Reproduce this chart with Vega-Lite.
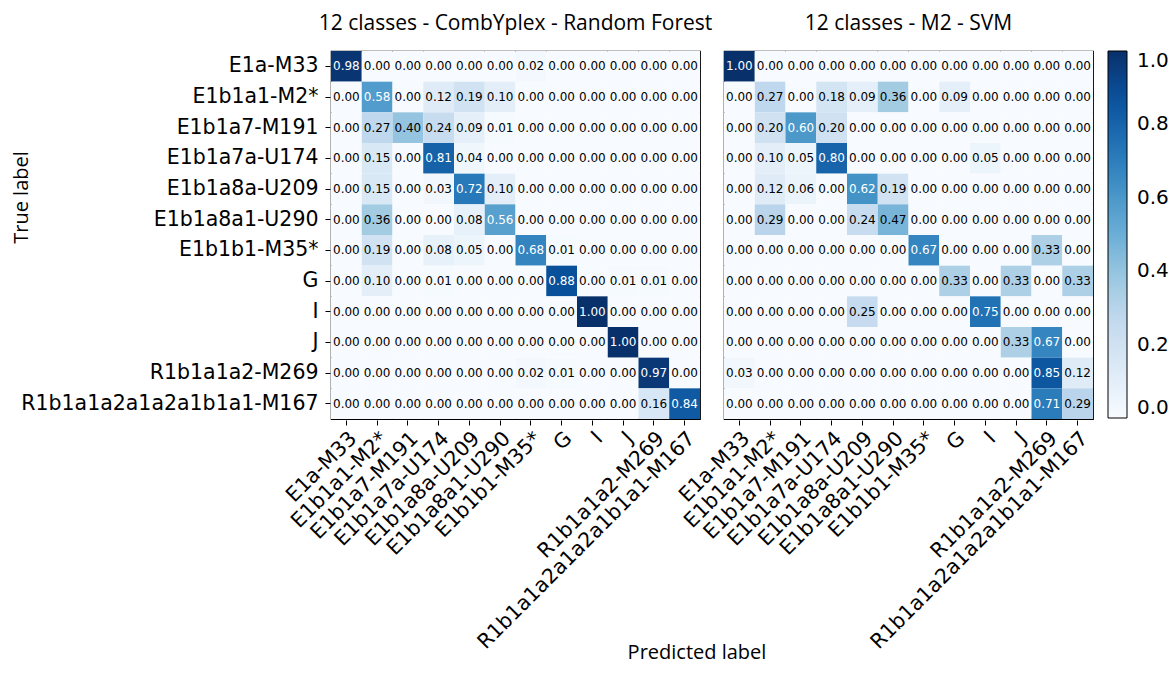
{
  "$schema": "https://vega.github.io/schema/vega-lite/v6.json",
  "background": "white",
  "padding": {"left": 11, "top": 13, "right": 2, "bottom": 6},
  "title": {"text": "Predicted label", "orient": "bottom", "anchor": "middle", "frame": "group", "font": "Open Sans", "fontSize": 20, "fontWeight": "normal", "color": "black", "offset": -10, "dx": 366},
  "datasets": {
    "cm": [
      {"p":"RF","t":"E1a-M33","c":"E1a-M33","v":0.98},{"p":"RF","t":"E1a-M33","c":"E1b1a1-M2*","v":0},{"p":"RF","t":"E1a-M33","c":"E1b1a7-M191","v":0},{"p":"RF","t":"E1a-M33","c":"E1b1a7a-U174","v":0},{"p":"RF","t":"E1a-M33","c":"E1b1a8a-U209","v":0},{"p":"RF","t":"E1a-M33","c":"E1b1a8a1-U290","v":0},{"p":"RF","t":"E1a-M33","c":"E1b1b1-M35*","v":0.02},{"p":"RF","t":"E1a-M33","c":"G","v":0},{"p":"RF","t":"E1a-M33","c":"I","v":0},{"p":"RF","t":"E1a-M33","c":"J","v":0},{"p":"RF","t":"E1a-M33","c":"R1b1a1a2-M269","v":0},{"p":"RF","t":"E1a-M33","c":"R1b1a1a2a1a2a1b1a1-M167","v":0},
      {"p":"RF","t":"E1b1a1-M2*","c":"E1a-M33","v":0},{"p":"RF","t":"E1b1a1-M2*","c":"E1b1a1-M2*","v":0.58},{"p":"RF","t":"E1b1a1-M2*","c":"E1b1a7-M191","v":0},{"p":"RF","t":"E1b1a1-M2*","c":"E1b1a7a-U174","v":0.12},{"p":"RF","t":"E1b1a1-M2*","c":"E1b1a8a-U209","v":0.19},{"p":"RF","t":"E1b1a1-M2*","c":"E1b1a8a1-U290","v":0.10},{"p":"RF","t":"E1b1a1-M2*","c":"E1b1b1-M35*","v":0},{"p":"RF","t":"E1b1a1-M2*","c":"G","v":0},{"p":"RF","t":"E1b1a1-M2*","c":"I","v":0},{"p":"RF","t":"E1b1a1-M2*","c":"J","v":0},{"p":"RF","t":"E1b1a1-M2*","c":"R1b1a1a2-M269","v":0},{"p":"RF","t":"E1b1a1-M2*","c":"R1b1a1a2a1a2a1b1a1-M167","v":0},
      {"p":"RF","t":"E1b1a7-M191","c":"E1a-M33","v":0},{"p":"RF","t":"E1b1a7-M191","c":"E1b1a1-M2*","v":0.27},{"p":"RF","t":"E1b1a7-M191","c":"E1b1a7-M191","v":0.40},{"p":"RF","t":"E1b1a7-M191","c":"E1b1a7a-U174","v":0.24},{"p":"RF","t":"E1b1a7-M191","c":"E1b1a8a-U209","v":0.09},{"p":"RF","t":"E1b1a7-M191","c":"E1b1a8a1-U290","v":0.01},{"p":"RF","t":"E1b1a7-M191","c":"E1b1b1-M35*","v":0},{"p":"RF","t":"E1b1a7-M191","c":"G","v":0},{"p":"RF","t":"E1b1a7-M191","c":"I","v":0},{"p":"RF","t":"E1b1a7-M191","c":"J","v":0},{"p":"RF","t":"E1b1a7-M191","c":"R1b1a1a2-M269","v":0},{"p":"RF","t":"E1b1a7-M191","c":"R1b1a1a2a1a2a1b1a1-M167","v":0},
      {"p":"RF","t":"E1b1a7a-U174","c":"E1a-M33","v":0},{"p":"RF","t":"E1b1a7a-U174","c":"E1b1a1-M2*","v":0.15},{"p":"RF","t":"E1b1a7a-U174","c":"E1b1a7-M191","v":0},{"p":"RF","t":"E1b1a7a-U174","c":"E1b1a7a-U174","v":0.81},{"p":"RF","t":"E1b1a7a-U174","c":"E1b1a8a-U209","v":0.04},{"p":"RF","t":"E1b1a7a-U174","c":"E1b1a8a1-U290","v":0},{"p":"RF","t":"E1b1a7a-U174","c":"E1b1b1-M35*","v":0},{"p":"RF","t":"E1b1a7a-U174","c":"G","v":0},{"p":"RF","t":"E1b1a7a-U174","c":"I","v":0},{"p":"RF","t":"E1b1a7a-U174","c":"J","v":0},{"p":"RF","t":"E1b1a7a-U174","c":"R1b1a1a2-M269","v":0},{"p":"RF","t":"E1b1a7a-U174","c":"R1b1a1a2a1a2a1b1a1-M167","v":0},
      {"p":"RF","t":"E1b1a8a-U209","c":"E1a-M33","v":0},{"p":"RF","t":"E1b1a8a-U209","c":"E1b1a1-M2*","v":0.15},{"p":"RF","t":"E1b1a8a-U209","c":"E1b1a7-M191","v":0},{"p":"RF","t":"E1b1a8a-U209","c":"E1b1a7a-U174","v":0.03},{"p":"RF","t":"E1b1a8a-U209","c":"E1b1a8a-U209","v":0.72},{"p":"RF","t":"E1b1a8a-U209","c":"E1b1a8a1-U290","v":0.10},{"p":"RF","t":"E1b1a8a-U209","c":"E1b1b1-M35*","v":0},{"p":"RF","t":"E1b1a8a-U209","c":"G","v":0},{"p":"RF","t":"E1b1a8a-U209","c":"I","v":0},{"p":"RF","t":"E1b1a8a-U209","c":"J","v":0},{"p":"RF","t":"E1b1a8a-U209","c":"R1b1a1a2-M269","v":0},{"p":"RF","t":"E1b1a8a-U209","c":"R1b1a1a2a1a2a1b1a1-M167","v":0},
      {"p":"RF","t":"E1b1a8a1-U290","c":"E1a-M33","v":0},{"p":"RF","t":"E1b1a8a1-U290","c":"E1b1a1-M2*","v":0.36},{"p":"RF","t":"E1b1a8a1-U290","c":"E1b1a7-M191","v":0},{"p":"RF","t":"E1b1a8a1-U290","c":"E1b1a7a-U174","v":0},{"p":"RF","t":"E1b1a8a1-U290","c":"E1b1a8a-U209","v":0.08},{"p":"RF","t":"E1b1a8a1-U290","c":"E1b1a8a1-U290","v":0.56},{"p":"RF","t":"E1b1a8a1-U290","c":"E1b1b1-M35*","v":0},{"p":"RF","t":"E1b1a8a1-U290","c":"G","v":0},{"p":"RF","t":"E1b1a8a1-U290","c":"I","v":0},{"p":"RF","t":"E1b1a8a1-U290","c":"J","v":0},{"p":"RF","t":"E1b1a8a1-U290","c":"R1b1a1a2-M269","v":0},{"p":"RF","t":"E1b1a8a1-U290","c":"R1b1a1a2a1a2a1b1a1-M167","v":0},
      {"p":"RF","t":"E1b1b1-M35*","c":"E1a-M33","v":0},{"p":"RF","t":"E1b1b1-M35*","c":"E1b1a1-M2*","v":0.19},{"p":"RF","t":"E1b1b1-M35*","c":"E1b1a7-M191","v":0},{"p":"RF","t":"E1b1b1-M35*","c":"E1b1a7a-U174","v":0.08},{"p":"RF","t":"E1b1b1-M35*","c":"E1b1a8a-U209","v":0.05},{"p":"RF","t":"E1b1b1-M35*","c":"E1b1a8a1-U290","v":0},{"p":"RF","t":"E1b1b1-M35*","c":"E1b1b1-M35*","v":0.68},{"p":"RF","t":"E1b1b1-M35*","c":"G","v":0.01},{"p":"RF","t":"E1b1b1-M35*","c":"I","v":0},{"p":"RF","t":"E1b1b1-M35*","c":"J","v":0},{"p":"RF","t":"E1b1b1-M35*","c":"R1b1a1a2-M269","v":0},{"p":"RF","t":"E1b1b1-M35*","c":"R1b1a1a2a1a2a1b1a1-M167","v":0},
      {"p":"RF","t":"G","c":"E1a-M33","v":0},{"p":"RF","t":"G","c":"E1b1a1-M2*","v":0.10},{"p":"RF","t":"G","c":"E1b1a7-M191","v":0},{"p":"RF","t":"G","c":"E1b1a7a-U174","v":0.01},{"p":"RF","t":"G","c":"E1b1a8a-U209","v":0},{"p":"RF","t":"G","c":"E1b1a8a1-U290","v":0},{"p":"RF","t":"G","c":"E1b1b1-M35*","v":0},{"p":"RF","t":"G","c":"G","v":0.88},{"p":"RF","t":"G","c":"I","v":0},{"p":"RF","t":"G","c":"J","v":0.01},{"p":"RF","t":"G","c":"R1b1a1a2-M269","v":0.01},{"p":"RF","t":"G","c":"R1b1a1a2a1a2a1b1a1-M167","v":0},
      {"p":"RF","t":"I","c":"E1a-M33","v":0},{"p":"RF","t":"I","c":"E1b1a1-M2*","v":0},{"p":"RF","t":"I","c":"E1b1a7-M191","v":0},{"p":"RF","t":"I","c":"E1b1a7a-U174","v":0},{"p":"RF","t":"I","c":"E1b1a8a-U209","v":0},{"p":"RF","t":"I","c":"E1b1a8a1-U290","v":0},{"p":"RF","t":"I","c":"E1b1b1-M35*","v":0},{"p":"RF","t":"I","c":"G","v":0},{"p":"RF","t":"I","c":"I","v":1.0},{"p":"RF","t":"I","c":"J","v":0},{"p":"RF","t":"I","c":"R1b1a1a2-M269","v":0},{"p":"RF","t":"I","c":"R1b1a1a2a1a2a1b1a1-M167","v":0},
      {"p":"RF","t":"J","c":"E1a-M33","v":0},{"p":"RF","t":"J","c":"E1b1a1-M2*","v":0},{"p":"RF","t":"J","c":"E1b1a7-M191","v":0},{"p":"RF","t":"J","c":"E1b1a7a-U174","v":0},{"p":"RF","t":"J","c":"E1b1a8a-U209","v":0},{"p":"RF","t":"J","c":"E1b1a8a1-U290","v":0},{"p":"RF","t":"J","c":"E1b1b1-M35*","v":0},{"p":"RF","t":"J","c":"G","v":0},{"p":"RF","t":"J","c":"I","v":0},{"p":"RF","t":"J","c":"J","v":1.0},{"p":"RF","t":"J","c":"R1b1a1a2-M269","v":0},{"p":"RF","t":"J","c":"R1b1a1a2a1a2a1b1a1-M167","v":0},
      {"p":"RF","t":"R1b1a1a2-M269","c":"E1a-M33","v":0},{"p":"RF","t":"R1b1a1a2-M269","c":"E1b1a1-M2*","v":0},{"p":"RF","t":"R1b1a1a2-M269","c":"E1b1a7-M191","v":0},{"p":"RF","t":"R1b1a1a2-M269","c":"E1b1a7a-U174","v":0},{"p":"RF","t":"R1b1a1a2-M269","c":"E1b1a8a-U209","v":0},{"p":"RF","t":"R1b1a1a2-M269","c":"E1b1a8a1-U290","v":0},{"p":"RF","t":"R1b1a1a2-M269","c":"E1b1b1-M35*","v":0.02},{"p":"RF","t":"R1b1a1a2-M269","c":"G","v":0.01},{"p":"RF","t":"R1b1a1a2-M269","c":"I","v":0},{"p":"RF","t":"R1b1a1a2-M269","c":"J","v":0},{"p":"RF","t":"R1b1a1a2-M269","c":"R1b1a1a2-M269","v":0.97},{"p":"RF","t":"R1b1a1a2-M269","c":"R1b1a1a2a1a2a1b1a1-M167","v":0},
      {"p":"RF","t":"R1b1a1a2a1a2a1b1a1-M167","c":"E1a-M33","v":0},{"p":"RF","t":"R1b1a1a2a1a2a1b1a1-M167","c":"E1b1a1-M2*","v":0},{"p":"RF","t":"R1b1a1a2a1a2a1b1a1-M167","c":"E1b1a7-M191","v":0},{"p":"RF","t":"R1b1a1a2a1a2a1b1a1-M167","c":"E1b1a7a-U174","v":0},{"p":"RF","t":"R1b1a1a2a1a2a1b1a1-M167","c":"E1b1a8a-U209","v":0},{"p":"RF","t":"R1b1a1a2a1a2a1b1a1-M167","c":"E1b1a8a1-U290","v":0},{"p":"RF","t":"R1b1a1a2a1a2a1b1a1-M167","c":"E1b1b1-M35*","v":0},{"p":"RF","t":"R1b1a1a2a1a2a1b1a1-M167","c":"G","v":0},{"p":"RF","t":"R1b1a1a2a1a2a1b1a1-M167","c":"I","v":0},{"p":"RF","t":"R1b1a1a2a1a2a1b1a1-M167","c":"J","v":0},{"p":"RF","t":"R1b1a1a2a1a2a1b1a1-M167","c":"R1b1a1a2-M269","v":0.16},{"p":"RF","t":"R1b1a1a2a1a2a1b1a1-M167","c":"R1b1a1a2a1a2a1b1a1-M167","v":0.84},
      {"p":"SVM","t":"E1a-M33","c":"E1a-M33","v":1.0},{"p":"SVM","t":"E1a-M33","c":"E1b1a1-M2*","v":0},{"p":"SVM","t":"E1a-M33","c":"E1b1a7-M191","v":0},{"p":"SVM","t":"E1a-M33","c":"E1b1a7a-U174","v":0},{"p":"SVM","t":"E1a-M33","c":"E1b1a8a-U209","v":0},{"p":"SVM","t":"E1a-M33","c":"E1b1a8a1-U290","v":0},{"p":"SVM","t":"E1a-M33","c":"E1b1b1-M35*","v":0},{"p":"SVM","t":"E1a-M33","c":"G","v":0},{"p":"SVM","t":"E1a-M33","c":"I","v":0},{"p":"SVM","t":"E1a-M33","c":"J","v":0},{"p":"SVM","t":"E1a-M33","c":"R1b1a1a2-M269","v":0},{"p":"SVM","t":"E1a-M33","c":"R1b1a1a2a1a2a1b1a1-M167","v":0},
      {"p":"SVM","t":"E1b1a1-M2*","c":"E1a-M33","v":0},{"p":"SVM","t":"E1b1a1-M2*","c":"E1b1a1-M2*","v":0.27},{"p":"SVM","t":"E1b1a1-M2*","c":"E1b1a7-M191","v":0},{"p":"SVM","t":"E1b1a1-M2*","c":"E1b1a7a-U174","v":0.18},{"p":"SVM","t":"E1b1a1-M2*","c":"E1b1a8a-U209","v":0.09},{"p":"SVM","t":"E1b1a1-M2*","c":"E1b1a8a1-U290","v":0.36},{"p":"SVM","t":"E1b1a1-M2*","c":"E1b1b1-M35*","v":0},{"p":"SVM","t":"E1b1a1-M2*","c":"G","v":0.09},{"p":"SVM","t":"E1b1a1-M2*","c":"I","v":0},{"p":"SVM","t":"E1b1a1-M2*","c":"J","v":0},{"p":"SVM","t":"E1b1a1-M2*","c":"R1b1a1a2-M269","v":0},{"p":"SVM","t":"E1b1a1-M2*","c":"R1b1a1a2a1a2a1b1a1-M167","v":0},
      {"p":"SVM","t":"E1b1a7-M191","c":"E1a-M33","v":0},{"p":"SVM","t":"E1b1a7-M191","c":"E1b1a1-M2*","v":0.20},{"p":"SVM","t":"E1b1a7-M191","c":"E1b1a7-M191","v":0.60},{"p":"SVM","t":"E1b1a7-M191","c":"E1b1a7a-U174","v":0.20},{"p":"SVM","t":"E1b1a7-M191","c":"E1b1a8a-U209","v":0},{"p":"SVM","t":"E1b1a7-M191","c":"E1b1a8a1-U290","v":0},{"p":"SVM","t":"E1b1a7-M191","c":"E1b1b1-M35*","v":0},{"p":"SVM","t":"E1b1a7-M191","c":"G","v":0},{"p":"SVM","t":"E1b1a7-M191","c":"I","v":0},{"p":"SVM","t":"E1b1a7-M191","c":"J","v":0},{"p":"SVM","t":"E1b1a7-M191","c":"R1b1a1a2-M269","v":0},{"p":"SVM","t":"E1b1a7-M191","c":"R1b1a1a2a1a2a1b1a1-M167","v":0},
      {"p":"SVM","t":"E1b1a7a-U174","c":"E1a-M33","v":0},{"p":"SVM","t":"E1b1a7a-U174","c":"E1b1a1-M2*","v":0.10},{"p":"SVM","t":"E1b1a7a-U174","c":"E1b1a7-M191","v":0.05},{"p":"SVM","t":"E1b1a7a-U174","c":"E1b1a7a-U174","v":0.80},{"p":"SVM","t":"E1b1a7a-U174","c":"E1b1a8a-U209","v":0},{"p":"SVM","t":"E1b1a7a-U174","c":"E1b1a8a1-U290","v":0},{"p":"SVM","t":"E1b1a7a-U174","c":"E1b1b1-M35*","v":0},{"p":"SVM","t":"E1b1a7a-U174","c":"G","v":0},{"p":"SVM","t":"E1b1a7a-U174","c":"I","v":0.05},{"p":"SVM","t":"E1b1a7a-U174","c":"J","v":0},{"p":"SVM","t":"E1b1a7a-U174","c":"R1b1a1a2-M269","v":0},{"p":"SVM","t":"E1b1a7a-U174","c":"R1b1a1a2a1a2a1b1a1-M167","v":0},
      {"p":"SVM","t":"E1b1a8a-U209","c":"E1a-M33","v":0},{"p":"SVM","t":"E1b1a8a-U209","c":"E1b1a1-M2*","v":0.12},{"p":"SVM","t":"E1b1a8a-U209","c":"E1b1a7-M191","v":0.06},{"p":"SVM","t":"E1b1a8a-U209","c":"E1b1a7a-U174","v":0},{"p":"SVM","t":"E1b1a8a-U209","c":"E1b1a8a-U209","v":0.62},{"p":"SVM","t":"E1b1a8a-U209","c":"E1b1a8a1-U290","v":0.19},{"p":"SVM","t":"E1b1a8a-U209","c":"E1b1b1-M35*","v":0},{"p":"SVM","t":"E1b1a8a-U209","c":"G","v":0},{"p":"SVM","t":"E1b1a8a-U209","c":"I","v":0},{"p":"SVM","t":"E1b1a8a-U209","c":"J","v":0},{"p":"SVM","t":"E1b1a8a-U209","c":"R1b1a1a2-M269","v":0},{"p":"SVM","t":"E1b1a8a-U209","c":"R1b1a1a2a1a2a1b1a1-M167","v":0},
      {"p":"SVM","t":"E1b1a8a1-U290","c":"E1a-M33","v":0},{"p":"SVM","t":"E1b1a8a1-U290","c":"E1b1a1-M2*","v":0.29},{"p":"SVM","t":"E1b1a8a1-U290","c":"E1b1a7-M191","v":0},{"p":"SVM","t":"E1b1a8a1-U290","c":"E1b1a7a-U174","v":0},{"p":"SVM","t":"E1b1a8a1-U290","c":"E1b1a8a-U209","v":0.24},{"p":"SVM","t":"E1b1a8a1-U290","c":"E1b1a8a1-U290","v":0.47},{"p":"SVM","t":"E1b1a8a1-U290","c":"E1b1b1-M35*","v":0},{"p":"SVM","t":"E1b1a8a1-U290","c":"G","v":0},{"p":"SVM","t":"E1b1a8a1-U290","c":"I","v":0},{"p":"SVM","t":"E1b1a8a1-U290","c":"J","v":0},{"p":"SVM","t":"E1b1a8a1-U290","c":"R1b1a1a2-M269","v":0},{"p":"SVM","t":"E1b1a8a1-U290","c":"R1b1a1a2a1a2a1b1a1-M167","v":0},
      {"p":"SVM","t":"E1b1b1-M35*","c":"E1a-M33","v":0},{"p":"SVM","t":"E1b1b1-M35*","c":"E1b1a1-M2*","v":0},{"p":"SVM","t":"E1b1b1-M35*","c":"E1b1a7-M191","v":0},{"p":"SVM","t":"E1b1b1-M35*","c":"E1b1a7a-U174","v":0},{"p":"SVM","t":"E1b1b1-M35*","c":"E1b1a8a-U209","v":0},{"p":"SVM","t":"E1b1b1-M35*","c":"E1b1a8a1-U290","v":0},{"p":"SVM","t":"E1b1b1-M35*","c":"E1b1b1-M35*","v":0.67},{"p":"SVM","t":"E1b1b1-M35*","c":"G","v":0},{"p":"SVM","t":"E1b1b1-M35*","c":"I","v":0},{"p":"SVM","t":"E1b1b1-M35*","c":"J","v":0},{"p":"SVM","t":"E1b1b1-M35*","c":"R1b1a1a2-M269","v":0.33},{"p":"SVM","t":"E1b1b1-M35*","c":"R1b1a1a2a1a2a1b1a1-M167","v":0},
      {"p":"SVM","t":"G","c":"E1a-M33","v":0},{"p":"SVM","t":"G","c":"E1b1a1-M2*","v":0},{"p":"SVM","t":"G","c":"E1b1a7-M191","v":0},{"p":"SVM","t":"G","c":"E1b1a7a-U174","v":0},{"p":"SVM","t":"G","c":"E1b1a8a-U209","v":0},{"p":"SVM","t":"G","c":"E1b1a8a1-U290","v":0},{"p":"SVM","t":"G","c":"E1b1b1-M35*","v":0},{"p":"SVM","t":"G","c":"G","v":0.33},{"p":"SVM","t":"G","c":"I","v":0},{"p":"SVM","t":"G","c":"J","v":0.33},{"p":"SVM","t":"G","c":"R1b1a1a2-M269","v":0},{"p":"SVM","t":"G","c":"R1b1a1a2a1a2a1b1a1-M167","v":0.33},
      {"p":"SVM","t":"I","c":"E1a-M33","v":0},{"p":"SVM","t":"I","c":"E1b1a1-M2*","v":0},{"p":"SVM","t":"I","c":"E1b1a7-M191","v":0},{"p":"SVM","t":"I","c":"E1b1a7a-U174","v":0},{"p":"SVM","t":"I","c":"E1b1a8a-U209","v":0.25},{"p":"SVM","t":"I","c":"E1b1a8a1-U290","v":0},{"p":"SVM","t":"I","c":"E1b1b1-M35*","v":0},{"p":"SVM","t":"I","c":"G","v":0},{"p":"SVM","t":"I","c":"I","v":0.75},{"p":"SVM","t":"I","c":"J","v":0},{"p":"SVM","t":"I","c":"R1b1a1a2-M269","v":0},{"p":"SVM","t":"I","c":"R1b1a1a2a1a2a1b1a1-M167","v":0},
      {"p":"SVM","t":"J","c":"E1a-M33","v":0},{"p":"SVM","t":"J","c":"E1b1a1-M2*","v":0},{"p":"SVM","t":"J","c":"E1b1a7-M191","v":0},{"p":"SVM","t":"J","c":"E1b1a7a-U174","v":0},{"p":"SVM","t":"J","c":"E1b1a8a-U209","v":0},{"p":"SVM","t":"J","c":"E1b1a8a1-U290","v":0},{"p":"SVM","t":"J","c":"E1b1b1-M35*","v":0},{"p":"SVM","t":"J","c":"G","v":0},{"p":"SVM","t":"J","c":"I","v":0},{"p":"SVM","t":"J","c":"J","v":0.33},{"p":"SVM","t":"J","c":"R1b1a1a2-M269","v":0.67},{"p":"SVM","t":"J","c":"R1b1a1a2a1a2a1b1a1-M167","v":0},
      {"p":"SVM","t":"R1b1a1a2-M269","c":"E1a-M33","v":0.03},{"p":"SVM","t":"R1b1a1a2-M269","c":"E1b1a1-M2*","v":0},{"p":"SVM","t":"R1b1a1a2-M269","c":"E1b1a7-M191","v":0},{"p":"SVM","t":"R1b1a1a2-M269","c":"E1b1a7a-U174","v":0},{"p":"SVM","t":"R1b1a1a2-M269","c":"E1b1a8a-U209","v":0},{"p":"SVM","t":"R1b1a1a2-M269","c":"E1b1a8a1-U290","v":0},{"p":"SVM","t":"R1b1a1a2-M269","c":"E1b1b1-M35*","v":0},{"p":"SVM","t":"R1b1a1a2-M269","c":"G","v":0},{"p":"SVM","t":"R1b1a1a2-M269","c":"I","v":0},{"p":"SVM","t":"R1b1a1a2-M269","c":"J","v":0},{"p":"SVM","t":"R1b1a1a2-M269","c":"R1b1a1a2-M269","v":0.85},{"p":"SVM","t":"R1b1a1a2-M269","c":"R1b1a1a2a1a2a1b1a1-M167","v":0.12},
      {"p":"SVM","t":"R1b1a1a2a1a2a1b1a1-M167","c":"E1a-M33","v":0},{"p":"SVM","t":"R1b1a1a2a1a2a1b1a1-M167","c":"E1b1a1-M2*","v":0},{"p":"SVM","t":"R1b1a1a2a1a2a1b1a1-M167","c":"E1b1a7-M191","v":0},{"p":"SVM","t":"R1b1a1a2a1a2a1b1a1-M167","c":"E1b1a7a-U174","v":0},{"p":"SVM","t":"R1b1a1a2a1a2a1b1a1-M167","c":"E1b1a8a-U209","v":0},{"p":"SVM","t":"R1b1a1a2a1a2a1b1a1-M167","c":"E1b1a8a1-U290","v":0},{"p":"SVM","t":"R1b1a1a2a1a2a1b1a1-M167","c":"E1b1b1-M35*","v":0},{"p":"SVM","t":"R1b1a1a2a1a2a1b1a1-M167","c":"G","v":0},{"p":"SVM","t":"R1b1a1a2a1a2a1b1a1-M167","c":"I","v":0},{"p":"SVM","t":"R1b1a1a2a1a2a1b1a1-M167","c":"J","v":0},{"p":"SVM","t":"R1b1a1a2a1a2a1b1a1-M167","c":"R1b1a1a2-M269","v":0.71},{"p":"SVM","t":"R1b1a1a2a1a2a1b1a1-M167","c":"R1b1a1a2a1a2a1b1a1-M167","v":0.29}
    ]
  },
  "data": {"name": "cm"},
  "facet": {
    "column": {
      "field": "p", "type": "nominal",
      "header": {
        "title": null,
        "labelFontSize": 21,
        "labelFont": "Open Sans",
        "labelColor": "black",
        "labelPadding": 16,
        "labelExpr": "datum.value == 'RF' ? '12 classes - CombYplex - Random Forest' : '12 classes - M2 - SVM'"
      }
    }
  },
  "spacing": 22,
  "spec": {
    "width": 369,
    "height": 368,
    "encoding": {
      "x": {
        "field": "c", "type": "nominal",
        "sort": ["E1a-M33","E1b1a1-M2*","E1b1a7-M191","E1b1a7a-U174","E1b1a8a-U209","E1b1a8a1-U290","E1b1b1-M35*","G","I","J","R1b1a1a2-M269","R1b1a1a2a1a2a1b1a1-M167"],
        "title": null,
        "axis": {"labelAngle": -45, "labelFontSize": 20.5, "labelFont": "DejaVu Sans", "labelColor": "black", "labelLimit": 500, "tickSize": 5, "tickColor": "black", "domain": false, "labelPadding": 3, "labelOverlap": false}
      },
      "y": {
        "field": "t", "type": "nominal",
        "sort": ["E1a-M33","E1b1a1-M2*","E1b1a7-M191","E1b1a7a-U174","E1b1a8a-U209","E1b1a8a1-U290","E1b1b1-M35*","G","I","J","R1b1a1a2-M269","R1b1a1a2a1a2a1b1a1-M167"],
        "title": "True label",
        "axis": {"labelFontSize": 20.5, "labelFont": "DejaVu Sans", "labelColor": "black", "labelLimit": 500, "tickSize": 5, "tickColor": "black", "domain": false, "labelPadding": 7, "titleFont": "Open Sans", "titleFontSize": 20, "titleFontWeight": "normal", "titleColor": "black", "titleX": -299, "titleY": 146, "labelOverlap": false}
      }
    },
    "layer": [
      {
        "mark": {"type": "rect"},
        "encoding": {
          "color": {
            "field": "v", "type": "quantitative",
            "scale": {
              "domain": [0, 0.125, 0.25, 0.375, 0.5, 0.625, 0.75, 0.875, 1],
              "range": ["#f7fbff","#deebf7","#c6dbef","#9ecae1","#6baed6","#4292c6","#2171b5","#08519c","#08306b"]
            },
            "legend": {
              "title": null,
              "gradientLength": 367,
              "gradientThickness": 19,
              "values": [0, 0.2, 0.4, 0.6, 0.8, 1],
              "format": ".1f",
              "labelFontSize": 20,
              "labelFont": "DejaVu Sans",
              "labelColor": "black",
              "labelOffset": 10,
              "gradientStrokeColor": "black",
              "gradientStrokeWidth": 1,
              "offset": 14
            }
          }
        }
      },
      {
        "mark": {"type": "text", "font": "DejaVu Sans", "fontSize": 12},
        "encoding": {
          "text": {"field": "v", "type": "quantitative", "format": ".2f"},
          "color": {"condition": {"test": "datum.v > 0.5", "value": "white"}, "value": "black"}
        }
      }
    ]
  },
  "config": {
    "view": {"stroke": "black", "strokeWidth": 1.2},
    "legend": {"gradientVerticalMaxLength": 400}
  }
}
